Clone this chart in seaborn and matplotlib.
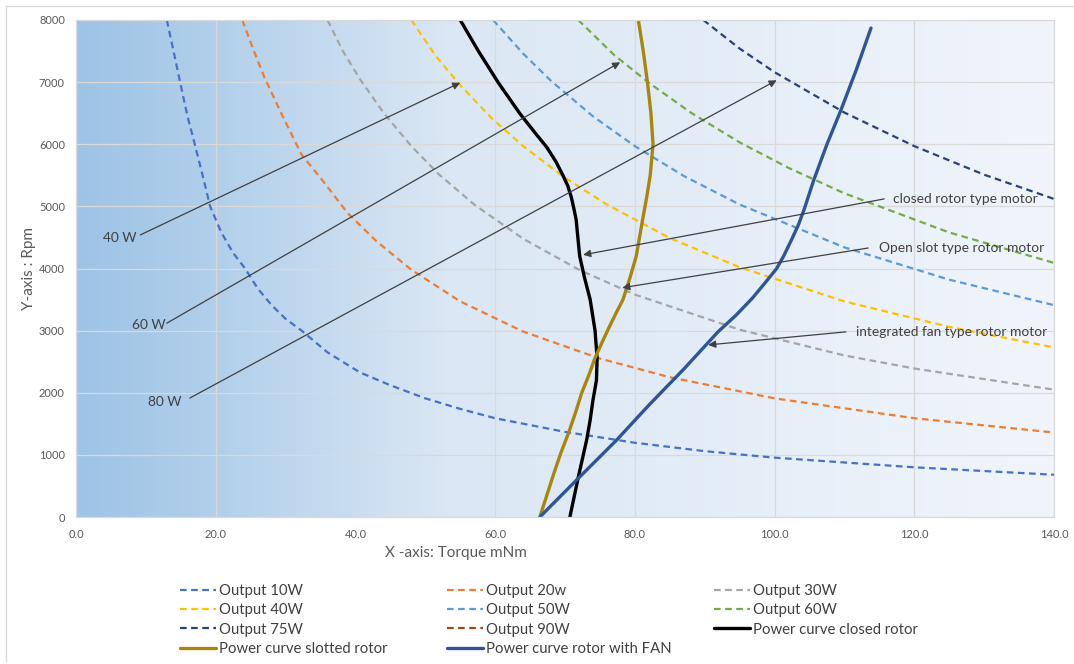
import numpy as np
import pandas as pd
import matplotlib
matplotlib.use("Agg")
import matplotlib.pyplot as plt
from matplotlib.colors import LinearSegmentedColormap
from matplotlib.lines import Line2D
import seaborn as sns

# Curvas de potencia constante
p10_torque = [13.0, 14.0, 14.9, 15.9, 17.0, 18.1, 19.2, 20.8, 22.5, 24.2, 26.0, 28.0, 30.0, 32.3, 36.0, 40.6, 45.0, 50.0, 55.0, 60.0, 70.0, 80.0, 90.0, 100.0, 120.0, 140.0]
p10_rpm = [8000, 7480, 7000, 6480, 6000, 5510, 5000, 4580, 4250, 4000, 3680, 3410, 3190, 3000, 2650, 2330, 2120, 1910, 1740, 1590, 1370, 1195, 1060, 955, 800, 680]

p20_torque = [23.8, 25.4, 27.0, 29.5, 32.3, 35.0, 38.9, 43.0, 48.0, 55.0, 64.0, 75.0, 85.0, 100.0, 120.0, 140.0]
p20_rpm = [8000, 7520, 7070, 6470, 5830, 5460, 4890, 4440, 3980, 3470, 2985, 2550, 2250, 1910, 1590, 1360]

p30_torque = [36.0, 38.2, 40.7, 44.0, 48.0, 52.0, 57.0, 64.0, 72.0, 80.0, 95.0, 110.0, 120.0, 140.0]
p30_rpm = [8000, 7500, 7040, 6510, 5970, 5510, 5030, 4480, 3980, 3580, 3015, 2600, 2390, 2050]

p40_torque = [48.0, 51.5, 55.0, 59.5, 64.0, 70.0, 76.0, 85.0, 95.0, 110.0, 125.0, 140.0]
p40_rpm = [8000, 7420, 6950, 6420, 5970, 5460, 5030, 4490, 4020, 3470, 3060, 2730]

p50_torque = [59.7, 64.0, 68.0, 74.0, 80.0, 87.0, 95.0, 110.0, 125.0, 140.0]
p50_rpm = [8000, 7460, 7020, 6450, 5970, 5490, 5030, 4340, 3820, 3410]

p60_torque = [71.9, 77.0, 82.0, 88.0, 95.0, 102.0, 110.0, 125.0, 140.0]
p60_rpm = [8000, 7440, 6990, 6510, 6030, 5620, 5210, 4580, 4090]

p75_torque = [89.8, 95.0, 100.0, 110.0, 120.0, 130.0, 140.0]
p75_rpm = [8000, 7540, 7160, 6510, 5970, 5510, 5120]

# Curvas de los motores
closed_torque = [55.0, 57.6, 60.4, 63.5, 65.6, 67.4, 68.7, 69.7, 70.4, 70.9, 71.3, 71.6, 72.1, 72.8, 73.6, 74.3, 74.6, 74.5, 74.0, 73.6, 73.1, 72.5, 71.9, 71.3, 70.7]
closed_rpm = [8000, 7500, 7000, 6500, 6200, 5950, 5720, 5500, 5330, 5150, 4950, 4780, 4200, 3850, 3500, 3000, 2560, 2200, 1880, 1560, 1240, 940, 640, 320, 0]

slotted_torque = [66.4, 67.4, 68.4, 69.4, 70.5, 71.5, 72.4, 73.4, 74.3, 75.3, 76.3, 77.3, 78.3, 79.3, 80.2, 81.1, 81.7, 82.2, 82.6, 82.3, 81.8, 81.2, 80.5]
slotted_rpm = [0, 350, 700, 1030, 1350, 1680, 2000, 2280, 2560, 2810, 3050, 3280, 3500, 3850, 4200, 4780, 5150, 5500, 6000, 6500, 7000, 7500, 8000]

fan_torque = [66.4, 71.7, 77.4, 82.0, 87.0, 91.9, 94.5, 96.8, 98.5, 100.3, 101.3, 102.5, 103.4, 104.2, 105.6, 107.5, 109.5, 111.7, 113.8]
fan_rpm = [0, 600, 1240, 1800, 2380, 2980, 3250, 3520, 3750, 4000, 4200, 4480, 4700, 4940, 5420, 6000, 6550, 7200, 7870]

y_ticks = [0, 1000, 2000, 3000, 4000, 5000, 6000, 7000, 8000]
x_ticks = [0, 20, 40, 60, 80, 100, 120, 140]
x_tick_labels = ["0.0", "20.0", "40.0", "60.0", "80.0", "100.0", "120.0", "140.0"]

sns.set_theme(style="white")
plt.rcParams["font.family"] = ["Lato", "DejaVu Sans"]

fig = plt.figure(figsize=(10.74, 6.64), dpi=100)
ax = fig.add_axes([76 / 1074, 1 - 517 / 664, 978 / 1074, 497 / 664])

# Fondo degradado del area de trazado
cmap = LinearSegmentedColormap.from_list(
    "fondo", [(0.0, "#9DC3E6"), (0.15, "#B3D0EB"), (0.38, "#DAE7F4"), (1.0, "#F1F5FB")])
grad = np.linspace(0, 1, 256).reshape(1, -1)
ax.imshow(grad, extent=[0, 140, 0, 8000], aspect="auto", cmap=cmap, zorder=-2)

dash = (0, (3, 2))
iso = [
    ("Output 10W", p10_torque, p10_rpm, "#4472C4"),
    ("Output 20w", p20_torque, p20_rpm, "#ED7D31"),
    ("Output 30W", p30_torque, p30_rpm, "#A5A5A5"),
    ("Output 40W", p40_torque, p40_rpm, "#FFC000"),
    ("Output 50W", p50_torque, p50_rpm, "#5B9BD5"),
    ("Output 60W", p60_torque, p60_rpm, "#70AD47"),
    ("Output 75W", p75_torque, p75_rpm, "#264478"),
]
for name, tx, ry, col in iso:
    d = pd.DataFrame({"torque": tx, "rpm": ry})
    sns.lineplot(data=d, x="torque", y="rpm", sort=False, estimator=None, errorbar=None,
                 ax=ax, color=col, linestyle=dash, linewidth=1.6, label=name)
# la serie de 90 W no aparece dentro del rango visible
ax.plot([], [], color="#9E480E", linestyle=dash, linewidth=1.6, label="Output 90W")

motores = [
    ("Power curve closed rotor", closed_torque, closed_rpm, "#000000"),
    ("Power curve slotted rotor", slotted_torque, slotted_rpm, "#A8860C"),
    ("Power curve rotor with FAN", fan_torque, fan_rpm, "#2F5597"),
]
for name, tx, ry, col in motores:
    d = pd.DataFrame({"torque": tx, "rpm": ry})
    sns.lineplot(data=d, x="torque", y="rpm", sort=False, estimator=None, errorbar=None,
                 ax=ax, color=col, linewidth=2.4, label=name)

ax.set_xlim(0, 140)
ax.set_ylim(0, 8000)
ax.set_xticks(x_ticks)
ax.set_xticklabels(x_tick_labels)
ax.set_yticks(y_ticks)
ax.tick_params(axis="y", length=0, labelsize=8, labelcolor="#595959", pad=8)
ax.tick_params(axis="x", length=0, labelsize=8, labelcolor="#595959", pad=9)
ax.grid(True, color="#D9D9D9", linewidth=0.9)
for s in ax.spines.values():
    s.set_color("#D9D9D9")
    s.set_linewidth(0.9)

ax.set_xlabel("X -axis: Torque mNm", fontsize=11, color="#595959")
ax.xaxis.set_label_coords((456 - 76) / 978, -0.058)
ax.set_ylabel("Y-axis : Rpm", fontsize=11, color="#595959")
ax.yaxis.set_label_coords(-0.041, 0.5)

# Flechas y notas
flecha = dict(arrowstyle="-|>", color="#404040", lw=0.9, mutation_scale=11, shrinkA=0, shrinkB=0)
notas = [
    ("40 W", (3.9, 4490), (9.2, 4540), (55.0, 6990)),
    ("60 W", (8.0, 3090), (13.0, 3120), (77.9, 7320)),
    ("80 W", (10.3, 1850), (16.3, 1915), (100.3, 7030)),
    ("closed rotor type motor", (117.0, 5120), (115.7, 5120), (72.6, 4220)),
    ("Open slot type rotor motor", (114.9, 4330), (113.4, 4330), (78.2, 3690)),
    ("integrated fan type rotor motor", (111.7, 2980), (110.2, 2980), (90.5, 2770)),
]
for txt, pos, cola, punta in notas:
    ax.annotate("", xy=punta, xytext=cola, arrowprops=flecha)
    ax.text(pos[0], pos[1], txt, fontsize=9.9, color="#404040", ha="left", va="center")

# Leyenda: tres columnas colocadas por separado
handles, labels = ax.get_legend_handles_labels()
hmap = dict(zip(labels, handles))
if ax.legend_:
    ax.legend_.remove()
columnas = [
    (180, ["Output 10W", "Output 40W", "Output 75W", "Power curve slotted rotor"]),
    (447, ["Output 20w", "Output 50W", "Output 90W", "Power curve rotor with FAN"]),
    (714, ["Output 30W", "Output 60W", "Power curve closed rotor"]),
]
for xpix, nombres in columnas:
    leg = fig.legend([hmap[k] for k in nombres], nombres, loc="upper left",
                     bbox_to_anchor=(xpix / 1074, 1 - 584 / 664), frameon=False,
                     fontsize=10.7, handlelength=2.4, handletextpad=0.2,
                     labelspacing=0.36, borderpad=0, borderaxespad=0)
    for t in leg.get_texts():
        t.set_color("#404040")

# Marco exterior
fig.add_artist(Line2D([6 / 1074, 1], [1 - 6 / 664, 1 - 6 / 664], color="#D9D9D9", lw=1))
fig.add_artist(Line2D([6 / 1074, 6 / 1074], [0.005, 1 - 6 / 664], color="#D9D9D9", lw=1))

fig.savefig("out.png", dpi=100)
